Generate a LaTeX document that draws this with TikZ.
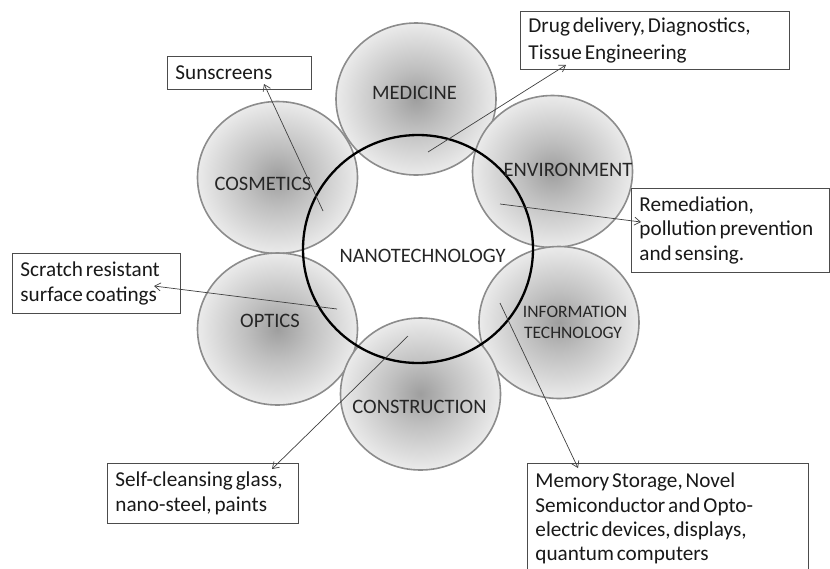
\documentclass[tikz,border=0pt]{standalone}
\usepackage{fontspec}
\setmainfont{Carlito}
\newfontfamily\calfam{Carlito}[WordSpace=0.6]
\usetikzlibrary{shapes.geometric,arrows.meta}
\pgfdeclareradialshading{orbshade}{\pgfpoint{0bp}{0bp}}{color(0bp)=(black!38); color(10bp)=(black!25); color(25bp)=(black!8); color(50bp)=(black!8)}
\newcommand{\calfont}[1]{\calfam\fontsize{21.2}{#1}\selectfont}
\begin{document}
\begin{tikzpicture}[x=1pt,y=-1pt,
  orb/.style={ellipse, draw=black!45, line width=1.6pt, shading=orbshade, inner sep=0pt, minimum width=160pt, minimum height=152pt},
  lbl/.style={anchor=base, text=black!85, font=\fontsize{20.5}{24}\selectfont},
  callout/.style={draw=black!70, line width=0.9pt, fill=white, anchor=north west, align=flush left, text=black!90, font=\calfont{24.4}, inner xsep=8pt},
  arr/.style={draw=black!75, line width=0.7pt, -{Straight Barb[length=6pt,width=8pt]}}]
\clip (0,0) rectangle (830,568);
\fill[white] (0,0) rectangle (830,568);
% circles
\node[orb] (med) at (416,99) {};
\node[orb] (cos) at (277.5,177.5) {};
\node[orb] (env) at (552.5,171.5) {};
\node[orb] (opt) at (277.5,329) {};
\node[orb] (inf) at (559,322.5) {};
\node[orb] (con) at (420.5,394) {};
\node[ellipse, draw=black, line width=2.3pt, inner sep=0pt, minimum width=230pt, minimum height=228pt] (nano) at (418,249) {};
% labels
\node[lbl] (medt) at (414.5,99) {MEDICINE};
\node[lbl] (cost) at (263,190.5) {COSMETICS};
\node[lbl] (envt) at (568,176) {ENVIRONMENT};
\node[lbl] (nanot) at (422.5,262) {NANOTECHNOLOGY};
\node[lbl] (optt) at (270,327) {OPTICS};
\node[lbl, font=\fontsize{17.5}{21}\selectfont] (inft1) at (575,317) {INFORMATION};
\node[lbl, font=\fontsize{17.5}{21}\selectfont] (inft2) at (573,338) {TECHNOLOGY};
\node[lbl] (cont) at (419.5,413) {CONSTRUCTION};
% callouts
\node[callout, text width=128pt, minimum height=33pt] (sun) at (167,56) {Sunscreens};
\node[callout, text width=253pt, minimum height=58pt, font=\calfont{27}] (drug) at (520,11) {Drug delivery, Diagnostics,\\Tissue Engineering};
\node[callout, text width=182pt, minimum height=84pt] (rem) at (631,188) {Remediation,\\pollution prevention\\and sensing.};
\node[callout, text width=152pt, minimum height=60pt] (scr) at (12,253) {Scratch resistant\\surface coatings};
\node[callout, text width=175pt, minimum height=60pt] (self) at (107,463) {Self-cleansing glass,\\nano-steel, paints};
\node[callout, text width=265pt, inner ysep=9.6pt] (mem) at (527,463) {Memory Storage, Novel\\Semiconductor and Opto-\\electric devices, displays,\\quantum computers};
% arrow ends
\coordinate (s1) at (323,211); \coordinate (t1) at (264,84);
\coordinate (s2) at (428,152); \coordinate (t2) at (566,65);
\coordinate (s3) at (500,204); \coordinate (t3) at (641,222);
\coordinate (s4) at (337,309); \coordinate (t4) at (154,286);
\coordinate (s5) at (408,336); \coordinate (t5) at (272,469);
\coordinate (s6) at (500,303); \coordinate (t6) at (578,468);
\draw[arr] (s1) -- (t1);
\draw[arr] (s2) -- (t2);
\draw[arr] (s3) -- (t3);
\draw[arr] (s4) -- (t4);
\draw[arr] (s5) -- (t5);
\draw[arr] (s6) -- (t6);
\end{tikzpicture}
\end{document}
